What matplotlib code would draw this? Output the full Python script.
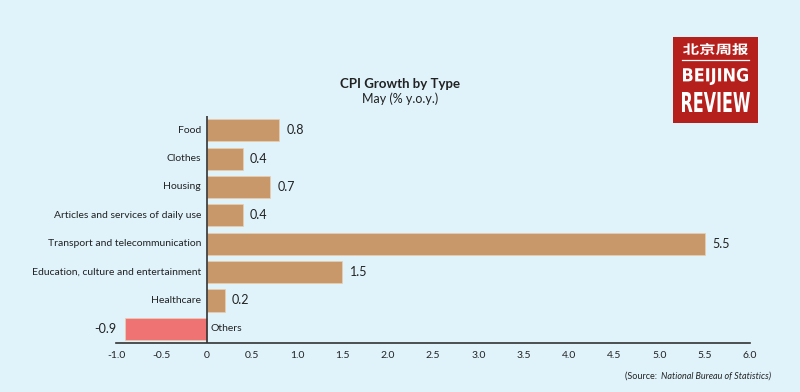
import matplotlib.pyplot as plt
from matplotlib.patches import PathPatch
from matplotlib.textpath import TextPath
from matplotlib.font_manager import FontProperties
from matplotlib.transforms import Affine2D

categories = ['Food', 'Clothes', 'Housing', 'Articles and services of daily use',
              'Transport and telecommunication', 'Education, culture and entertainment',
              'Healthcare', 'Others']
values = [0.8, 0.4, 0.7, 0.4, 5.5, 1.5, 0.2, -0.9]
xticks = [-1.0, -0.5, 0, 0.5, 1.0, 1.5, 2.0, 2.5, 3.0, 3.5, 4.0, 4.5, 5.0, 5.5, 6.0]

bg = '#e0f3fb'
tan = '#c8976a'
red = '#f07373'

plt.rcParams['font.family'] = ['Lato', 'DejaVu Sans']

fig = plt.figure(figsize=(8, 3.92), dpi=100, facecolor=bg)
ax = fig.add_axes([0.145, 0.125, 0.7925, 0.579])
ax.set_facecolor(bg)

ys = list(range(len(categories)))
colors = [red if v < 0 else tan for v in values]
ax.barh(ys, values, height=0.78, color=colors, edgecolor='#e9cfae', linewidth=0.5, zorder=2)

for y, v, c in zip(ys, values, categories):
    if v >= 0:
        ax.text(v + 0.08, y, f'{v}', va='center', ha='left', fontsize=9, color='#222222')
        ax.text(-0.06, y, c, va='center', ha='right', fontsize=7.5, color='#222222')
    else:
        ax.text(v - 0.1, y, f'{v}', va='center', ha='right', fontsize=9, color='#222222')
        ax.text(0.04, y, c, va='center', ha='left', fontsize=7.5, color='#222222')

ax.set_ylim(len(categories) - 0.5, -0.5)
ax.set_xlim(-1.0, 6.0)
ax.set_xticks(xticks)
ax.set_xticklabels(['0' if t == 0 else f'{t:.1f}' for t in xticks], fontsize=7.5, color='#222222')
ax.tick_params(axis='x', length=0, pad=6)
ax.set_yticks([])
for s in ['top', 'right', 'left']:
    ax.spines[s].set_visible(False)
ax.spines['bottom'].set_color('#333333')
ax.spines['bottom'].set_linewidth(1.2)
ax.axvline(0, color='#333333', linewidth=1.2, zorder=3)

fig.text(0.5, 0.77, 'CPI Growth by Type', ha='center', va='bottom', fontsize=9.5,
         fontweight='bold', color='#222222')
fig.text(0.5, 0.765, 'May (% y.o.y.)', ha='center', va='top', fontsize=9, color='#222222')

# source line: normal prefix + italic name, placed side by side
src_a = fig.text(0.781, 0.04, '(Source: ', ha='left', va='center', fontsize=6.5, color='#222222')
fig.canvas.draw()
bb = src_a.get_window_extent()
src_x = fig.transFigure.inverted().transform((bb.x1, bb.y0))[0]
fig.text(src_x + 0.002, 0.04, 'National Bureau of Statistics)', ha='left', va='center',
         fontsize=6.5, style='italic', color='#222222')

# logo, drawn in a small axes measured in pixels
lax = fig.add_axes([673 / 800, 1 - 123 / 392, 85 / 800, 86 / 392])
lax.set_xlim(0, 85)
lax.set_ylim(0, 86)
lax.set_facecolor('#b5201c')
lax.set_xticks([])
lax.set_yticks([])
for s in lax.spines.values():
    s.set_visible(False)


def fit_text(axl, s, x0, x1, y0, y1, prop):
    tp = TextPath((0, 0), s, size=10, prop=prop)
    ext = tp.get_extents()
    tr = (Affine2D().translate(-ext.x0, -ext.y0)
          .scale((x1 - x0) / ext.width, (y1 - y0) / ext.height).translate(x0, y0))
    axl.add_patch(PathPatch(tr.transform_path(tp), facecolor='white', edgecolor='none'))


bold = FontProperties(family='DejaVu Sans', weight='bold')
cjk = FontProperties(family='Noto Sans CJK SC', weight='bold')
fit_text(lax, 'BEIJING', 10, 75, 38, 55, bold)
fit_text(lax, 'REVIEW', 9, 77, 11, 31, bold)
fit_text(lax, '北京周报', 10, 75, 68, 80, cjk)
lax.plot([9, 76], [63, 63], color='white', linewidth=0.9)

fig.savefig('out.png', dpi=100, facecolor=bg)
